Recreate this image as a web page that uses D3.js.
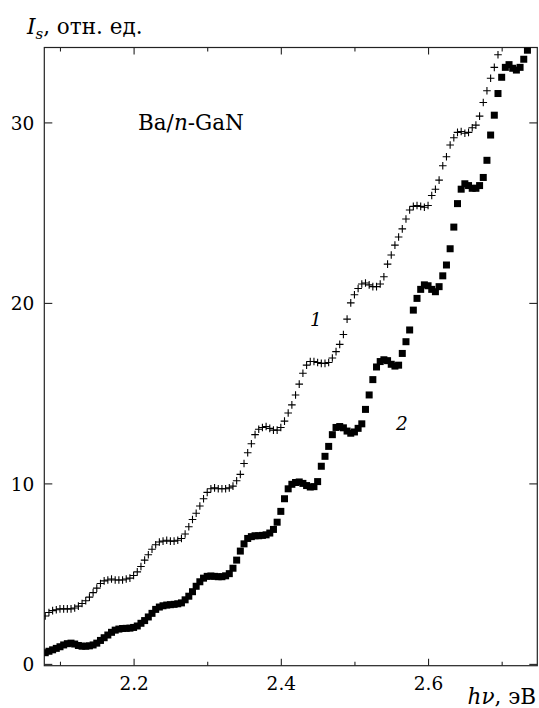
<!DOCTYPE html>
<html>
<head>
<meta charset="utf-8">
<script src="https://cdnjs.cloudflare.com/ajax/libs/d3/7.8.5/d3.min.js"></script>
<style>
  body { margin: 0; background: #fff; }
</style>
</head>
<body>
<script>
var svgWidth = 539;
var svgHeight = 708;
var serif = "'DejaVu Serif', serif";

var margin = { top: 47.5, right: 1.7, bottom: 42.3, left: 44.3 };
var width = svgWidth - margin.left - margin.right;
var height = svgHeight - margin.top - margin.bottom;

// photon energy, eV (shared grid of both spectra)
var energy = [
  2.080, 2.085, 2.090, 2.095, 2.100, 2.105, 2.110, 2.115, 2.120, 2.125,
  2.130, 2.135, 2.140, 2.145, 2.150, 2.155, 2.160, 2.165, 2.170, 2.175,
  2.180, 2.185, 2.190, 2.195, 2.200, 2.205, 2.210, 2.215, 2.220, 2.225,
  2.230, 2.235, 2.240, 2.245, 2.250, 2.255, 2.260, 2.265, 2.270, 2.275,
  2.280, 2.285, 2.290, 2.295, 2.300, 2.305, 2.310, 2.315, 2.320, 2.325,
  2.330, 2.335, 2.340, 2.345, 2.350, 2.355, 2.360, 2.365, 2.370, 2.375,
  2.380, 2.385, 2.390, 2.395, 2.400, 2.405, 2.410, 2.415, 2.420, 2.425,
  2.430, 2.435, 2.440, 2.445, 2.450, 2.455, 2.460, 2.465, 2.470, 2.475,
  2.480, 2.485, 2.490, 2.495, 2.500, 2.505, 2.510, 2.515, 2.520, 2.525,
  2.530, 2.535, 2.540, 2.545, 2.550, 2.555, 2.560, 2.565, 2.570, 2.575,
  2.580, 2.585, 2.590, 2.595, 2.600, 2.605, 2.610, 2.615, 2.620, 2.625,
  2.630, 2.635, 2.640, 2.645, 2.650, 2.655, 2.660, 2.665, 2.670, 2.675,
  2.680, 2.685, 2.690, 2.695, 2.700, 2.705, 2.710, 2.715, 2.720, 2.725,
  2.730, 2.735
];

// curve 1 (crosses), Is in rel. units
var curve1 = [
  2.65, 2.85, 2.95, 3.0, 3.05, 3.05, 3.05, 3.05, 3.1, 3.2,
  3.35, 3.5, 3.7, 3.95, 4.2, 4.45, 4.6, 4.65, 4.7, 4.65,
  4.65, 4.65, 4.7, 4.75, 4.9, 5.1, 5.4, 5.75, 6.05, 6.35,
  6.6, 6.75, 6.8, 6.85, 6.8, 6.8, 6.85, 6.95, 7.2, 7.6,
  8.0, 8.35, 8.75, 9.15, 9.5, 9.7, 9.75, 9.7, 9.7, 9.7,
  9.75, 9.85, 10.15, 10.5, 11.1, 11.7, 12.2, 12.7, 13.0, 13.1,
  13.15, 13.05, 12.95, 12.95, 13.1, 13.45, 13.9, 14.35, 14.9, 15.5,
  16.1, 16.55, 16.75, 16.75, 16.7, 16.65, 16.65, 16.7, 16.95, 17.3,
  17.7, 18.25, 19.1, 20.0, 20.45, 20.8, 21.05, 21.1, 21.0, 20.9,
  20.9, 21.05, 21.45, 22.15, 22.65, 23.2, 23.65, 24.1, 24.65, 25.15,
  25.35, 25.4, 25.35, 25.3, 25.4, 25.95, 26.3, 26.8, 27.6, 28.1,
  28.75, 29.15, 29.45, 29.5, 29.4, 29.45, 29.7, 29.85, 30.35, 31.1,
  31.75, 32.45, 33.05, 33.75
];

// curve 2 (filled squares)
var curve2 = [
  0.62, 0.7, 0.78, 0.86, 0.95, 1.05, 1.12, 1.15, 1.1, 1.02,
  0.98, 0.98, 1.0, 1.05, 1.15, 1.3, 1.45, 1.6, 1.75, 1.87,
  1.93, 1.96, 1.97, 1.98, 2.02, 2.1, 2.25, 2.4, 2.6, 2.8,
  3.02, 3.15, 3.22, 3.26, 3.28, 3.3, 3.33, 3.38, 3.55, 3.75,
  4.0, 4.3, 4.55, 4.75, 4.85, 4.87, 4.85, 4.83, 4.83, 4.88,
  5.0, 5.3, 5.75, 6.25, 6.65, 6.95, 7.05, 7.1, 7.1, 7.12,
  7.15, 7.25, 7.45, 7.85, 8.45, 9.15, 9.7, 9.95, 10.05, 10.08,
  10.0, 9.88, 9.8, 9.82, 10.1, 10.95, 11.5, 12.05, 12.7, 13.1,
  13.15, 13.08, 12.9, 12.78, 12.85, 13.05, 13.3, 14.1, 14.9, 15.75,
  16.45, 16.75, 16.85, 16.8, 16.6, 16.5, 16.55, 17.2, 17.85, 18.5,
  19.6, 20.25, 20.75, 21.0, 20.95, 20.75, 20.62, 20.9, 21.5, 22.1,
  23.0, 24.2, 25.5, 26.3, 26.6, 26.5, 26.35, 26.35, 26.5, 26.95,
  27.9, 29.3, 30.4, 31.6, 32.5, 33.05, 33.2, 33.0, 32.9, 33.05,
  33.5, 34.0
];

var xTicks = [2.1, 2.2, 2.3, 2.4, 2.5, 2.6, 2.7];
var xLabels = [2.2, 2.4, 2.6];
var yTicks = [0, 10, 20, 30];

var svg = d3.select("body")
  .append("svg")
  .attr("width", svgWidth)
  .attr("height", svgHeight);

var chartGroup = svg.append("g")
  .attr("transform", `translate(${margin.left}, ${margin.top})`);

// scales
var xScale = d3.scaleLinear()
  .domain([2.0787, 2.7484])
  .range([0, width]);

var yScale = d3.scaleLinear()
  .domain([-0.1, 34.15])
  .range([height, 0]);

chartGroup.append("clipPath")
  .attr("id", "plotClip")
  .append("rect")
  .attr("width", width)
  .attr("height", height);

// axes: ticks inward on all four sides
function isLabeled(d) {
  return xLabels.some(v => Math.abs(v - d) < 1e-6);
}

var bottomAxis = chartGroup.append("g")
  .attr("transform", `translate(0, ${height})`)
  .call(d3.axisBottom(xScale).tickValues(xTicks).tickSizeOuter(0)
    .tickFormat(d => isLabeled(d) ? d3.format(".1f")(d) : ""));
bottomAxis.selectAll(".tick line")
  .attr("y2", d => isLabeled(d) ? -7 : -4);

var topAxis = chartGroup.append("g")
  .call(d3.axisTop(xScale).tickValues(xTicks).tickSizeOuter(0).tickFormat(""));
topAxis.selectAll(".tick line")
  .attr("y2", d => isLabeled(d) ? 7 : 4);

var leftAxis = chartGroup.append("g")
  .call(d3.axisLeft(yScale).tickValues(yTicks).tickSizeOuter(0));
leftAxis.selectAll(".tick line").attr("x2", 8);

var rightAxis = chartGroup.append("g")
  .attr("transform", `translate(${width}, 0)`)
  .call(d3.axisRight(yScale).tickValues(yTicks).tickSizeOuter(0).tickFormat(""));
rightAxis.selectAll(".tick line").attr("x2", -8);

chartGroup.selectAll(".domain").remove();
chartGroup.selectAll(".tick line").attr("stroke", "#222").attr("stroke-width", 1.1);

bottomAxis.selectAll(".tick text")
  .attr("y", 24)
  .attr("dy", 0);

leftAxis.selectAll(".tick text")
  .attr("x", -10)
  .attr("dy", "0.36em");

// frame
chartGroup.append("rect")
  .attr("width", width)
  .attr("height", height)
  .attr("fill", "none")
  .attr("stroke", "#222")
  .attr("stroke-width", 1.2);

var marks = chartGroup.append("g").attr("clip-path", "url(#plotClip)");

// curve 2: filled squares
var sq = 7;
marks.selectAll("rect.sq")
  .data(curve2)
  .enter()
  .append("rect")
  .attr("class", "sq")
  .attr("x", (d, i) => xScale(energy[i]) - sq / 2)
  .attr("y", d => yScale(d) - sq / 2)
  .attr("width", sq)
  .attr("height", sq)
  .attr("fill", "#000");

// curve 1: crosses
var cr = 3.8;
marks.selectAll("path.cross")
  .data(curve1)
  .enter()
  .append("path")
  .attr("class", "cross")
  .attr("d", (d, i) => {
    var cx = xScale(energy[i]), cy = yScale(d);
    return `M${cx - cr},${cy}H${cx + cr}M${cx},${cy - cr}V${cy + cr}`;
  })
  .attr("stroke", "#000")
  .attr("stroke-width", 1.1)
  .attr("fill", "none");

// labels
var title = svg.append("text")
  .attr("class", "lbl")
  .attr("x", 27)
  .attr("y", 34);
title.append("tspan").attr("font-style", "italic").text("I");
title.append("tspan").attr("class", "sub").attr("font-style", "italic").attr("dy", 5).text("s");
title.append("tspan").attr("dy", -5).text(", отн. ед.");

var sample = svg.append("text")
  .attr("class", "lbl")
  .attr("x", 138)
  .attr("y", 130);
sample.append("tspan").text("Ba/");
sample.append("tspan").attr("font-style", "italic").text("n");
sample.append("tspan").text("-GaN");

var xTitle = svg.append("text")
  .attr("class", "lbl")
  .attr("x", 536)
  .attr("y", 704)
  .attr("text-anchor", "end");
xTitle.append("tspan").attr("font-style", "italic").text("hν");
xTitle.append("tspan").text(", эВ");

svg.append("text")
  .attr("x", 310)
  .attr("y", 326)
  .attr("font-style", "italic")
  .text("1");

svg.append("text")
  .attr("x", 396)
  .attr("y", 430)
  .attr("font-style", "italic")
  .text("2");

// one serif face for every text
svg.selectAll("text")
  .attr("font-family", null)
  .style("font-family", serif)
  .style("font-size", "18.5px")
  .style("fill", "#000");
svg.selectAll("text.lbl").style("font-size", "21.5px");
svg.selectAll("tspan.sub").style("font-size", "15px");
svg.selectAll("g").attr("font-family", null);
</script>
</body>
</html>
